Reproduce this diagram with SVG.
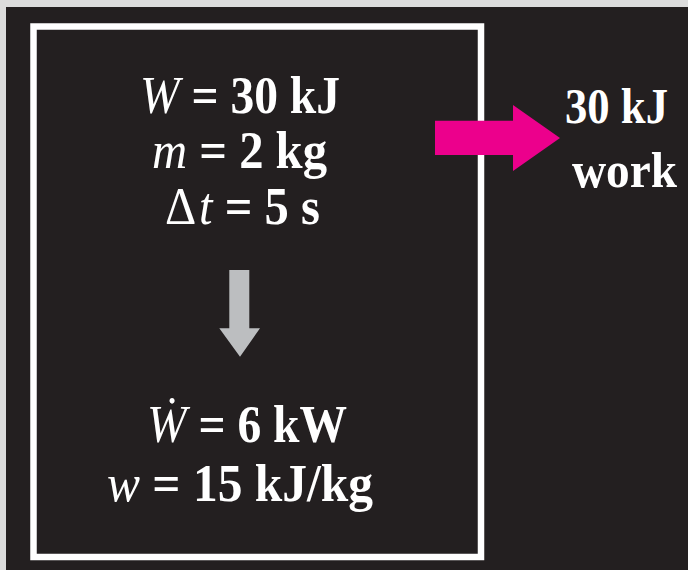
<svg xmlns="http://www.w3.org/2000/svg" width="688" height="570" viewBox="0 0 688 570">
<style>
.t{font-family:"Liberation Serif","Times New Roman",serif;font-weight:bold;fill:#ffffff;}
.v{font-style:italic;font-weight:normal;}
.n{font-weight:normal;}
</style>
<rect x="0" y="0" width="688" height="570" fill="#dcdcdc"/>
<rect x="6" y="7" width="682" height="563" fill="#231f20"/>
<g id="system">
<rect x="33.5" y="26.5" width="447.5" height="530.5" fill="none" stroke="#ffffff" stroke-width="6.5"/>
</g>
<g id="given">
<text class="t" x="140" y="113" font-size="52" textLength="200" lengthAdjust="spacingAndGlyphs"><tspan class="v">W</tspan> = 30 kJ</text>
<text class="t" x="152" y="168" font-size="52" textLength="175" lengthAdjust="spacingAndGlyphs"><tspan class="v">m</tspan> = 2 kg</text>
<text class="t" x="165" y="224" font-size="52" textLength="155" lengthAdjust="spacingAndGlyphs"><tspan class="n">Δ</tspan><tspan class="v" dx="3">t</tspan> = 5 s</text>
</g>
<g id="result">
<text class="t" x="147" y="442" font-size="52" textLength="200" lengthAdjust="spacingAndGlyphs"><tspan class="v">Ẇ</tspan> = 6 kW</text>
<text class="t" x="107" y="501" font-size="52" textLength="266" lengthAdjust="spacingAndGlyphs"><tspan class="v">w</tspan> = 15 kJ/kg</text>
</g>
<g id="work-label">
<text class="t" x="565" y="123" font-size="50" textLength="103" lengthAdjust="spacingAndGlyphs">30 kJ</text>
<text class="t" x="572" y="187" font-size="50" textLength="105" lengthAdjust="spacingAndGlyphs">work</text>
</g>
<g id="connectors">
<polygon id="arrow-down" points="229.3,270 249.3,270 249.3,328.3 260,328.3 240,356.7 219.3,328.3 229.3,328.3" fill="#bcbec0"/>
<polygon id="arrow-work" points="435,120.7 513,120.7 513,105 560,138 513,171 513,155 435,155" fill="#ec008c"/>
</g>
</svg>
